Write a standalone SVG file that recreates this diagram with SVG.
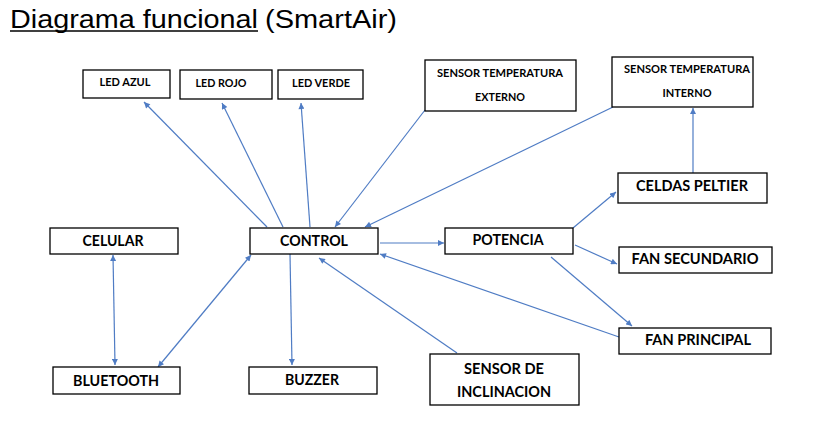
<svg xmlns="http://www.w3.org/2000/svg" width="813" height="440" viewBox="0 0 813 440">
  <style>
    .box { fill: #ffffff; stroke: #000000; stroke-width: 1.3; }
    .lbl { font-family: Lato, "Open Sans", "Liberation Sans", sans-serif; font-weight: bold; fill: #000000; text-anchor: middle; }
    .big { font-size: 15.5px; }
    .small { font-size: 11.2px; }
    .title { font-family: "Liberation Sans", Arial, sans-serif; font-size: 26px; fill: #000000; }
    .wire { fill: none; stroke: #4f7cc4; stroke-width: 1.2; }
  </style>
  <defs>
    <marker id="head" viewBox="0 0 10 10" refX="10" refY="5" markerWidth="7" markerHeight="6" markerUnits="userSpaceOnUse" orient="auto-start-reverse">
      <path d="M0,0 L10,5 L0,10 z" fill="#4f7cc4"/>
    </marker>
  </defs>

  <rect width="813" height="440" fill="#ffffff"/>

  <!-- title -->
  <g id="title">
    <text class="title" x="10" y="28" textLength="248" lengthAdjust="spacingAndGlyphs">Diagrama funcional</text>
    <line x1="10" y1="31" x2="258" y2="31" stroke="#000000" stroke-width="1.5"/>
    <text class="title" x="265" y="28" textLength="132" lengthAdjust="spacingAndGlyphs">(SmartAir)</text>
  </g>

  <!-- connectors -->
  <g id="connectors">
    <line class="wire" x1="267" y1="227" x2="144" y2="102" marker-end="url(#head)"/>
    <line class="wire" x1="283" y1="227" x2="222" y2="103" marker-end="url(#head)"/>
    <line class="wire" x1="310" y1="227" x2="301" y2="103" marker-end="url(#head)"/>
    <line class="wire" x1="425" y1="110" x2="335" y2="227" marker-end="url(#head)"/>
    <line class="wire" x1="613" y1="107" x2="365" y2="227" marker-end="url(#head)"/>
    <line class="wire" x1="380" y1="243" x2="444" y2="243" marker-end="url(#head)"/>
    <line class="wire" x1="573" y1="228" x2="616" y2="192" marker-end="url(#head)"/>
    <line class="wire" x1="575" y1="245" x2="617" y2="264" marker-end="url(#head)"/>
    <line class="wire" x1="551" y1="257" x2="632" y2="326" marker-end="url(#head)"/>
    <line class="wire" x1="619" y1="337" x2="380" y2="254" marker-end="url(#head)"/>
    <line class="wire" x1="457" y1="353" x2="319" y2="258" marker-end="url(#head)"/>
    <line class="wire" x1="693" y1="173" x2="693" y2="108" marker-end="url(#head)"/>
    <line class="wire" x1="290" y1="254" x2="292" y2="365" marker-end="url(#head)"/>
    <line class="wire" x1="113" y1="255" x2="115" y2="365" marker-start="url(#head)" marker-end="url(#head)"/>
    <line class="wire" x1="251" y1="255" x2="158" y2="367" marker-start="url(#head)" marker-end="url(#head)"/>
  </g>

  <!-- nodes -->
  <g id="led-azul">
    <rect class="box" x="83" y="70" width="87" height="28"/>
    <text class="lbl small" x="125" y="86" textLength="51" lengthAdjust="spacingAndGlyphs">LED AZUL</text>
  </g>
  <g id="led-rojo">
    <rect class="box" x="180" y="70" width="92" height="29"/>
    <text class="lbl small" x="221" y="87" textLength="51" lengthAdjust="spacingAndGlyphs">LED ROJO</text>
  </g>
  <g id="led-verde">
    <rect class="box" x="278" y="70" width="85" height="29"/>
    <text class="lbl small" x="321" y="87" textLength="58" lengthAdjust="spacingAndGlyphs">LED VERDE</text>
  </g>
  <g id="sensor-temp-externo">
    <rect class="box" x="425" y="60" width="151" height="51"/>
    <text class="lbl small" x="500" y="77" textLength="126" lengthAdjust="spacingAndGlyphs">SENSOR TEMPERATURA</text>
    <text class="lbl small" x="500" y="101" textLength="50" lengthAdjust="spacingAndGlyphs">EXTERNO</text>
  </g>
  <g id="sensor-temp-interno">
    <rect class="box" x="612" y="57" width="141" height="50"/>
    <text class="lbl small" x="687" y="73" textLength="126" lengthAdjust="spacingAndGlyphs">SENSOR TEMPERATURA</text>
    <text class="lbl small" x="687" y="97" textLength="49" lengthAdjust="spacingAndGlyphs">INTERNO</text>
  </g>
  <g id="celular">
    <rect class="box" x="50" y="228" width="128" height="26"/>
    <text class="lbl big" x="113" y="246" textLength="61" lengthAdjust="spacingAndGlyphs">CELULAR</text>
  </g>
  <g id="control">
    <rect class="box" x="250" y="228" width="128" height="26"/>
    <text class="lbl big" x="314" y="246" textLength="68" lengthAdjust="spacingAndGlyphs">CONTROL</text>
  </g>
  <g id="potencia">
    <rect class="box" x="445" y="228" width="128" height="26"/>
    <text class="lbl big" x="508" y="245" textLength="71" lengthAdjust="spacingAndGlyphs">POTENCIA</text>
  </g>
  <g id="celdas-peltier">
    <rect class="box" x="618" y="173" width="149" height="30"/>
    <text class="lbl big" x="692" y="191" textLength="112" lengthAdjust="spacingAndGlyphs">CELDAS PELTIER</text>
  </g>
  <g id="fan-secundario">
    <rect class="box" x="619" y="247" width="153" height="26"/>
    <text class="lbl big" x="695" y="264" textLength="127" lengthAdjust="spacingAndGlyphs">FAN SECUNDARIO</text>
  </g>
  <g id="fan-principal">
    <rect class="box" x="619" y="328" width="152" height="26"/>
    <text class="lbl big" x="698" y="345" textLength="106" lengthAdjust="spacingAndGlyphs">FAN PRINCIPAL</text>
  </g>
  <g id="bluetooth">
    <rect class="box" x="53" y="367" width="127" height="27"/>
    <text class="lbl big" x="116" y="386" textLength="86" lengthAdjust="spacingAndGlyphs">BLUETOOTH</text>
  </g>
  <g id="buzzer">
    <rect class="box" x="249" y="367" width="128" height="27"/>
    <text class="lbl big" x="312" y="385" textLength="54" lengthAdjust="spacingAndGlyphs">BUZZER</text>
  </g>
  <g id="sensor-inclinacion">
    <rect class="box" x="430" y="354" width="149" height="51"/>
    <text class="lbl big" x="504" y="374" textLength="80" lengthAdjust="spacingAndGlyphs">SENSOR DE</text>
    <text class="lbl big" x="504" y="397" textLength="94" lengthAdjust="spacingAndGlyphs">INCLINACION</text>
  </g>
</svg>
